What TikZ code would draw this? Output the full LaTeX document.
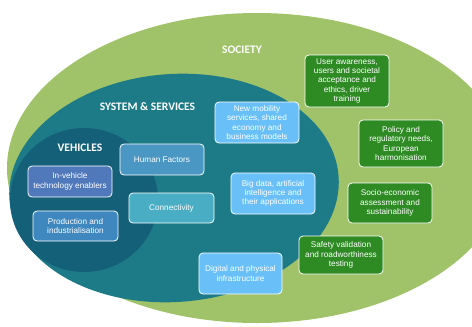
\documentclass[tikz,border=0pt]{standalone}
\usepackage{fontspec}
\setmainfont{Liberation Sans}
\newfontfamily\headfont{Carlito}

\definecolor{societygreen}{HTML}{A0C268}
\definecolor{systemteal}{HTML}{1C7B86}
\definecolor{vehicleblue}{HTML}{156079}
\definecolor{boxgreen}{HTML}{2E8B24}
\definecolor{skyblue}{HTML}{69C0F8}
\definecolor{invehblue}{HTML}{5079BC}
\definecolor{prodblue}{HTML}{3F87BF}
\definecolor{humanblue}{HTML}{4A97C3}
\definecolor{connblue}{HTML}{49ADC4}

\begin{document}
\begin{tikzpicture}[x=1pt, y=-1pt,
  box/.style={draw=white, line width=0.8pt, rounded corners=4pt, text=white,
    align=center, inner sep=1pt, minimum width=84pt,
    font=\fontsize{8.2}{9.3}\selectfont},
  greenbox/.style={box, fill=boxgreen},
  skybox/.style={box, fill=skyblue},
  heading/.style={text=white, font=\headfont\bfseries\fontsize{11.5}{12}\selectfont}]

  \useasboundingbox (0,0) rectangle (472,327);
  \clip (0,0) rectangle (472,327);

  % Three nested areas
  \fill[societygreen] (257,168) ellipse [x radius=250pt, y radius=155pt];
  \fill[systemteal, rotate around={4:(174,188)}] (174,188) ellipse [x radius=165pt, y radius=114pt];
  \fill[vehicleblue] (84,200) ellipse [x radius=74pt, y radius=72pt];

  % Area titles
  \node[heading] (society) at (242,50) {SOCIETY};
  \node[heading] (system) at (147.5,107) {SYSTEM \& SERVICES};
  \node[heading] (vehicles) at (80,148) {VEHICLES};

  % Vehicles
  \node[box, fill=invehblue, minimum height=31pt] (inveh) at (70,181.5) {In-vehicle\\technology enablers};
  \node[box, fill=prodblue, minimum height=30pt, minimum width=85pt] (prod) at (75.5,226) {Production and\\industrialisation};

  % System and services
  \node[box, fill=humanblue, minimum height=31pt] (human) at (162,159.5) {Human Factors};
  \node[box, fill=connblue, minimum height=30pt, minimum width=85pt] (conn) at (171.5,208) {Connectivity};
  \node[skybox, minimum height=41pt] (mobility) at (257,122.5) {New mobility\\services, shared\\economy and\\business models};
  \node[skybox, minimum height=41pt] (bigdata) at (273,193.5) {Big data, artificial\\intelligence and\\their applications};
  \node[skybox, minimum height=41pt, minimum width=83pt] (digital) at (240.5,273.5) {Digital and physical\\infrastructure};

  % Society
  \node[greenbox, minimum height=52pt] (user) at (347,81) {User awareness,\\users and societal\\acceptance and\\ethics, driver\\training};
  \node[greenbox, minimum height=47pt] (policy) at (401,143.5) {Policy and\\regulatory needs,\\European\\harmonisation};
  \node[greenbox, minimum height=40pt] (socio) at (390,203) {Socio-economic\\assessment and\\sustainability};
  \node[greenbox, minimum height=38pt] (safety) at (341,255) {Safety validation\\and roadworthiness\\testing};

\end{tikzpicture}
\end{document}
